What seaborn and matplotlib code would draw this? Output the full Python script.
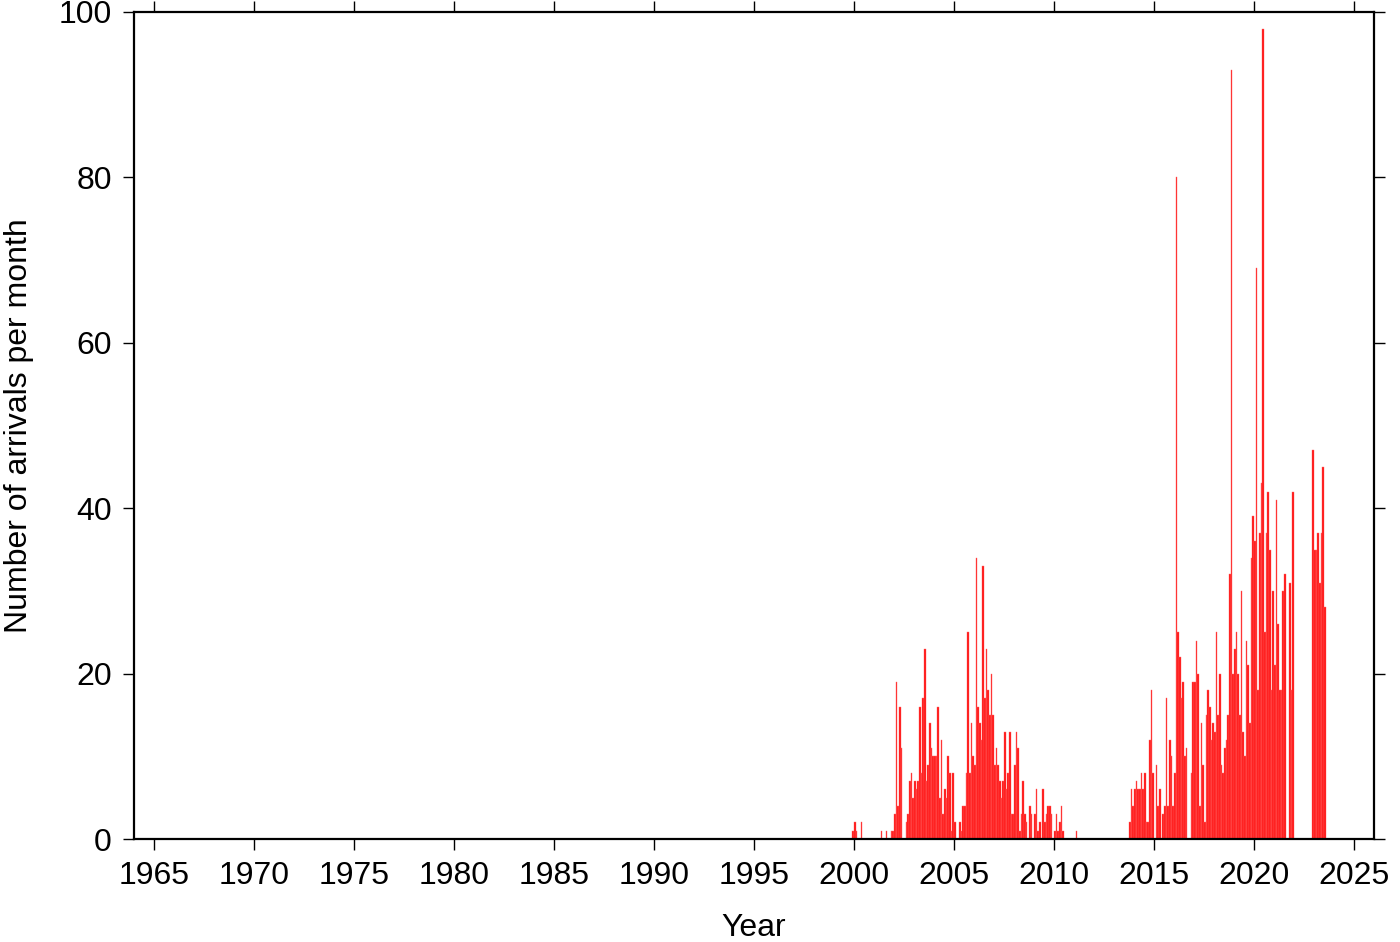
import pandas as pd
import seaborn as sns
import matplotlib.pyplot as plt

# ---------------------------------------
# Monthly arrival counts (Jan..Dec)
# ---------------------------------------
counts_1999 = [0, 0, 0, 0, 0, 0, 0, 0, 0, 0, 0, 1]
counts_2000 = [2, 1, 0, 0, 2, 0, 0, 0, 0, 0, 0, 0]
counts_2001 = [0, 0, 0, 0, 1, 0, 0, 1, 0, 0, 1, 1]
counts_2002 = [3, 19, 4, 16, 11, 0, 0, 2, 3, 7, 8, 5]
counts_2003 = [7, 6, 7, 16, 8, 17, 23, 7, 9, 14, 11, 10]
counts_2004 = [10, 10, 16, 5, 12, 3, 6, 5, 10, 8, 1, 8]
counts_2005 = [2, 0, 0, 2, 1, 4, 4, 8, 25, 8, 14, 10]
counts_2006 = [9, 34, 16, 14, 12, 33, 17, 23, 18, 15, 20, 15]
counts_2007 = [9, 11, 9, 7, 5, 7, 13, 6, 8, 13, 3, 3]
counts_2008 = [9, 13, 11, 1, 3, 7, 3, 2, 0, 4, 3, 0]
counts_2009 = [3, 6, 1, 2, 0, 6, 2, 3, 4, 4, 3, 0]
counts_2010 = [1, 3, 1, 2, 4, 1, 0, 0, 0, 0, 0, 0]
counts_2011 = [0, 1, 0, 0, 0, 0, 0, 0, 0, 0, 0, 0]
counts_2012 = [0, 0, 0, 0, 0, 0, 0, 0, 0, 0, 0, 0]
counts_2013 = [0, 0, 0, 0, 0, 0, 0, 0, 0, 2, 6, 4]
counts_2014 = [6, 7, 6, 6, 8, 6, 8, 2, 2, 12, 18, 8]
counts_2015 = [0, 9, 4, 6, 0, 3, 4, 17, 4, 12, 10, 4]
counts_2016 = [8, 80, 25, 22, 17, 19, 10, 11, 0, 0, 8, 19]
counts_2017 = [19, 24, 20, 4, 14, 9, 2, 15, 18, 16, 12, 14]
counts_2018 = [13, 25, 15, 20, 9, 8, 11, 12, 15, 32, 93, 20]
counts_2019 = [23, 25, 20, 15, 30, 13, 10, 24, 21, 14, 34, 39]
counts_2020 = [36, 69, 18, 37, 43, 98, 25, 37, 42, 35, 18, 30]
counts_2021 = [21, 41, 26, 18, 18, 30, 32, 0, 0, 31, 18, 42]
counts_2022 = [0, 0, 0, 0, 0, 0, 0, 0, 0, 0, 0, 47]
counts_2023 = [35, 35, 37, 31, 37, 45, 28]

yearly = {
    1999: counts_1999, 2000: counts_2000, 2001: counts_2001, 2002: counts_2002,
    2003: counts_2003, 2004: counts_2004, 2005: counts_2005, 2006: counts_2006,
    2007: counts_2007, 2008: counts_2008, 2009: counts_2009, 2010: counts_2010,
    2011: counts_2011, 2012: counts_2012, 2013: counts_2013, 2014: counts_2014,
    2015: counts_2015, 2016: counts_2016, 2017: counts_2017, 2018: counts_2018,
    2019: counts_2019, 2020: counts_2020, 2021: counts_2021, 2022: counts_2022,
    2023: counts_2023,
}

x_ticks = list(range(1965, 2030, 5))
y_ticks = [0, 20, 40, 60, 80, 100]

rows = []
for yr, vals in yearly.items():
    for m, v in enumerate(vals):
        rows.append({'time': yr + (m + 0.5) / 12, 'count': v})
df = pd.DataFrame(rows)

# ---------------------------------------
# Styling
# ---------------------------------------
sns.set_style("ticks")
plt.rcParams['font.family'] = ['Liberation Sans', 'DejaVu Sans']
plt.rcParams['text.color'] = 'black'
plt.rcParams['axes.labelcolor'] = 'black'
plt.rcParams['xtick.color'] = 'black'
plt.rcParams['ytick.color'] = 'black'

fig = plt.figure(figsize=(14, 9.42), dpi=100)
ax = fig.add_axes([0.0957, 0.1093, 0.8857, 0.878])

# ---------------------------------------
# Histogram of arrivals per month
# ---------------------------------------
sns.histplot(
    data=df,
    x='time',
    weights='count',
    binwidth=1 / 12,
    binrange=(1999 + 11 / 12, 2023 + 7 / 12),
    color='#ff1010',
    edgecolor='#ff6a6a',
    linewidth=0.3,
    alpha=1,
    ax=ax,
)

ax.set_xlim(1964, 2026)
ax.set_ylim(0, 100)
ax.set_xticks(x_ticks)
ax.set_yticks(y_ticks)

for s in ax.spines.values():
    s.set_visible(True)
    s.set_linewidth(1.6)
    s.set_color('black')

ax.tick_params(axis='both', which='major', direction='out', length=8, width=1,
               labelsize=23, pad=8, top=True, right=True,
               color='black', labelcolor='black')

# ---------------------------------------
# Titles and Labels
# ---------------------------------------
ax.set_xlabel("Year", fontsize=23, labelpad=16)
ax.set_ylabel("Number of arrivals per month", fontsize=23, labelpad=18)

# ---------------------------------------
# Save Output
# ---------------------------------------
fig.savefig('out.png', dpi=100)
plt.close()
